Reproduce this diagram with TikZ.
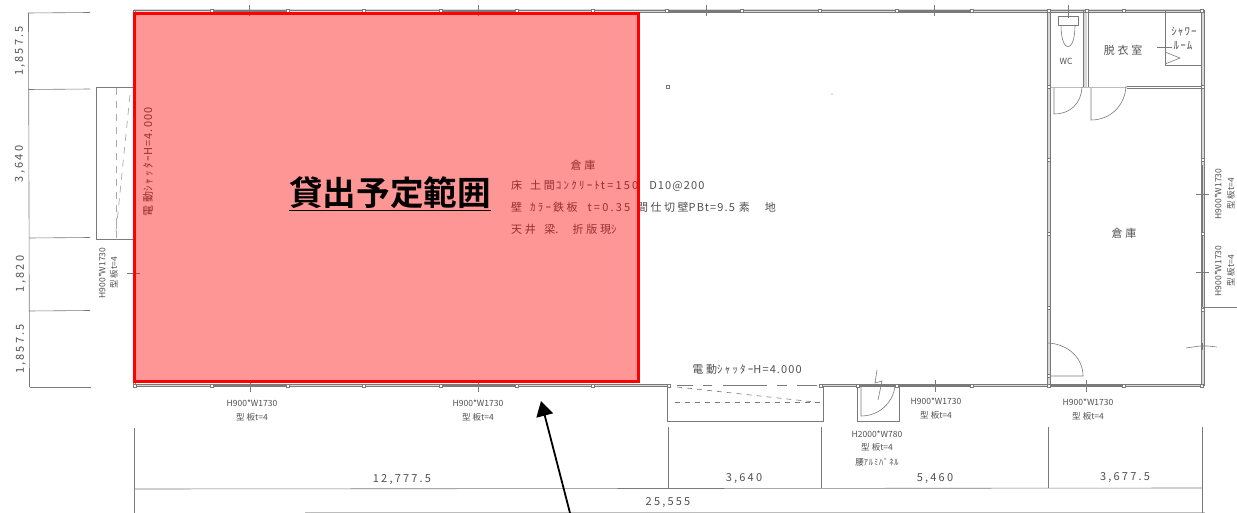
\documentclass[tikz,border=0pt]{standalone}
\usepackage{fontspec}
\setmainfont{Liberation Mono}
\newfontfamily\jp[LetterSpace=10]{Noto Sans CJK JP}
\newfontfamily\jpz{Noto Sans CJK JP}
\newfontfamily\jpw[LetterSpace=25]{Noto Sans CJK JP}
\newfontfamily\jpd[LetterSpace=20]{Noto Sans CJK JP}
\newfontfamily\jpb{Noto Sans CJK JP Bold}
\usetikzlibrary{arrows.meta}
\definecolor{ink}{HTML}{505050}
\definecolor{wallc}{HTML}{7a7a7a}
\definecolor{wallbg}{HTML}{d8d8d8}
\newcommand{\kj}[1]{{\jpw #1}}
\newcommand{\dg}[1]{{\jpd #1}}
\newcommand{\nr}[1]{{\jp #1}}
\newcommand{\hs}[1]{\hspace{#1pt}}
\tikzset{
 x=1pt,y=-1pt,
 wall/.style={draw=wallc,line width=.7pt},
 wallfill/.style={draw=wallbg,line width=3pt},
 thin line/.style={draw=wallc,line width=.6pt},
 faint line/.style={draw=wallbg!70!wallc,line width=.6pt},
 dash line/.style={draw=wallc,line width=.6pt,dash pattern=on 5pt off 5pt},
 pale dash/.style={draw=wallbg!50!wallc,line width=.7pt,dash pattern=on 7pt off 6pt},
 lbl/.style={inner sep=0pt,text=ink,font=\jpz\fontsize{8.5}{10}\selectfont},
 big/.style={inner sep=0pt,text=ink,font=\jp\fontsize{11}{12}\selectfont},
 dim/.style={inner sep=0pt,text=ink,font=\jpd\fontsize{11}{12}\selectfont},
 vdim/.style={dim,rotate=90},
 vlbl/.style={lbl,rotate=90},
}
\newcommand{\peg}[1]{\draw[draw=wallc,fill=white,line width=.5pt] (#1) ++(-1.7,-1.7) rectangle ++(3.4,3.4);}
\begin{document}
\begin{tikzpicture}
\useasboundingbox (0,0) rectangle (1237,513);
\fill[white] (0,0) rectangle (1237,513);
% wall bodies
\draw[wallfill] (134,11) -- (1203,11);
\draw[wallfill] (134,385.5) -- (668,385.5) (821,385.5) -- (1203,385.5);
\draw[wallfill] (1202.7,10) -- (1202.7,386);
\draw[wallfill] (1048.5,10) -- (1048.5,386);
\draw[wallfill] (1085.5,10) -- (1085.5,87);
% outer walls
\draw[wall] (134,10) -- (1204,10);
\draw[wall] (134,12) -- (1204,12);
\draw[wall] (134,384.5) -- (668,384.5) (821,384.5) -- (1204,384.5);
\draw[wall] (134,386.5) -- (668,386.5) (821,386.5) -- (1204,386.5);
\draw[wall] (133,10) -- (133,386);
\draw[wall] (135,10) -- (135,386);
\draw[wall] (1201.5,10) -- (1201.5,386);
\draw[wall] (1204,10) -- (1204,386);
\draw[draw=wallc,line width=1.4pt] (1202.7,165) -- (1202.7,307);
% interior walls
\draw[wall] (1047,10) -- (1047,386) (1050,10) -- (1050,386);
\draw[wall] (1083.5,10) -- (1083.5,87) (1088,10) -- (1088,87);
\draw[faint line] (1048,87) -- (1127,87);
\draw[wall] (1127,86) -- (1204,86) (1127,88) -- (1204,88);
\draw[draw=wallc,line width=.9pt] (1165,11) -- (1165,65) -- (1202,65);
\draw[thin line] (1165,52) -- (1180,58) -- (1165,64);
\draw[thin line] (1157,47) -- (1172,47);
% toilet
\draw[thin line] (1058,16) rectangle (1078,25);
\draw[thin line] (1061,25) .. controls (1061,54) and (1075,54) .. (1075,25);
\draw[thin line] (1068,5) -- (1068,18);
% doors
\draw[thin line] (1054,88) -- (1054,114) .. controls (1070,114) and (1081,104) .. (1082,87);
\draw[thin line] (1091,88) -- (1091,120) .. controls (1110,120) and (1125,106) .. (1126,86);
\draw[thin line] (1048,343) .. controls (1068,344) and (1083,358) .. (1083,376) -- (1048,376);
% left shutter
\draw[thin line] (133,87.5) -- (96,87.5) -- (96,239) -- (133,239);
\draw[pale dash] (116,88) -- (116,238);
\draw[pale dash] (130,95) -- (116,232);
\draw[thin line] (127,273) -- (140,273);
% bottom shutter
\draw[thin line] (667,386) -- (667,421) -- (823,421) -- (823,386);
\draw[thin line] (677,385.5) -- (693,385.5) (703,385.5) -- (712,385.5) (723,385.5) -- (767,385.5) (777,385.5) -- (787,385.5) (797,385.5) -- (817,385.5);
\draw[dash line] (675,402) -- (822,402);
\draw[dash line] (677,387) -- (815,402);
% door box
\draw[thin line] (857,386) -- (857,421) -- (899,421) -- (899,386);
\draw[draw=wallc,line width=.9pt] (860,385) -- (897,385);
\draw[thin line] (861,386) -- (861,416) .. controls (879,416) and (893,403) .. (895,386);
\draw[thin line] (877,370) -- (875,383) -- (882,381) -- (878,400);
% windows (thick parts)
\foreach \a/\b in {212/288,441/517,898/972,1049/1124}{
  \draw[draw=wallc,line width=1.3pt] (\a,385.5) -- (\b,385.5);}
\foreach \a/\b in {212/288,441/517,667/742,897/972}{
  \draw[draw=wallc,line width=1.3pt] (\a,11) -- (\b,11);}
% ticks
\foreach \x in {250,478,935,1086}{\draw[thin line] (\x,380) -- (\x,392);}
\foreach \x in {249,478,706,934}{\draw[thin line] (\x,5) -- (\x,16);}
\draw[thin line] (1196,194) -- (1209,194);
\draw[thin line] (1196,272) -- (1209,272);
\draw[thin line] (1186,348) -- (1200,346) (1200,346) -- (1208,346) (1208,346) -- (1217,347);
\draw[thin line] (1202,343) -- (1202,350);
\draw[thin line] (1203,307) -- (1237,307);
\foreach \x in {135,212,288,364,441,517,593,669,821,858,897,972,1049,1124,1202}{\peg{\x,385.5}}
\foreach \x in {212,288,364,441,517,593,667,742,820,897,972,1049,1087,1124,1202}{\peg{\x,11}}
\foreach \y in {87,160,234,308,376}{\peg{1048.5,\y}}
\foreach \y in {87,160,234,310}{\peg{1202.5,\y}}
\peg{668,87}
\fill[wallc] (832,94) circle (.6);
% dimension lines left
\draw[thin line] (28.5,13) -- (29.5,387);
\draw[thin line] (28,13) -- (90,12.5);
\draw[thin line] (28.5,89.5) -- (90,89);
\draw[thin line] (29,238) -- (90,237.5);
\draw[thin line] (29,311) -- (90,310.5);
\draw[thin line] (29.5,387) -- (91,387);
% dimension lines bottom
\draw[thin line] (134,428) -- (134,513);
\draw[thin line] (134,489) -- (1202,488);
\draw[faint line] (305,512) -- (1205,512);
\draw[thin line] (668,427) -- (668,488);
\draw[thin line] (821,427) -- (821,488);
\draw[thin line] (1048,427) -- (1048,488);
\draw[thin line] (1202,427) -- (1202,513);
% texts
\node[vdim] (d1) at (20,51) {1,857.5};
\node[vdim] (d2) at (20,164) {3,640};
\node[vdim] (d3) at (21,274) {1,820};
\node[vdim] (d4) at (21,349) {1,857.5};
\node[dim] (d5) at (402,480) {12,777.5};
\node[dim] (d6) at (744,479) {3,640};
\node[dim] (d7) at (935,479) {5,460};
\node[dim] (d8) at (1125,478) {3,677.5};
\node[dim] (d9) at (668,503) {25,555};
\node[vlbl] (w1a) at (102,273) {H900*W1730};
\node[vlbl] (w1b) at (114,273) {\kj{型板}t=4};
\node[lbl] (w2a) at (252,403) {H900*W1730};
\node[lbl] (w2b) at (252,417) {\kj{型板}t=4};
\node[lbl] (w3a) at (478,403) {H900*W1730};
\node[lbl] (w3b) at (478,417) {\kj{型板}t=4};
\node[lbl] (w4a) at (936,401) {H900*W1730};
\node[lbl] (w4b) at (936,415) {\kj{型板}t=4};
\node[lbl] (w5a) at (1088,402) {H900*W1730};
\node[lbl] (w5b) at (1088,416) {\kj{型板}t=4};
\node[vlbl] (w6a) at (1218,194) {H900*W1730};
\node[vlbl] (w6b) at (1231,194) {\kj{型板}t=4};
\node[vlbl] (w7a) at (1218,271) {H900*W1730};
\node[vlbl] (w7b) at (1231,271) {\kj{型板}t=4};
\node[lbl] (d1a) at (877,434) {H2000*W780};
\node[lbl] (d1b) at (877,447) {\kj{型板}t=4};
\node[lbl] (d1c) at (877,462) {\kj{腰}\nr{ｱﾙﾐﾊﾟﾈﾙ}};
\node[big] (s1) at (747,369) {\kj{電動}\dg{ｼｬｯﾀｰ}\nr{H=4.000}};
\node[big,rotate=90] (s2) at (148,162) {\kj{電動}\dg{ｼｬｯﾀｰ}\nr{H=4.000}};
\node[big] (r1) at (583,165) {\kj{倉庫}};
\node[big] (r2) at (1124,233) {\kj{倉庫}};
\node[big] (r3) at (1123,50) {\kj{脱衣室}};
\node[lbl] (r4) at (1066,61) {WC};
\node[big] (r5) at (1184,32) {ｼｬﾜｰ};
\node[big] (r6) at (1183,46) {ﾙｰﾑ};
\node[big,anchor=west] (n1) at (511,186) {\kj{床}\hs{8}\kj{土間}\hs{1}\dg{ｺﾝｸﾘｰﾄ}\hs{1}\dg{t=150}\hs{11}\nr{D10@200}};
\node[big,anchor=west] (n2) at (511,207) {\kj{壁}\hs{8}\dg{ｶﾗｰ}\hs{2}\kj{鉄}\hs{2.5}\kj{板}\hs{10}\dg{t=0.35}\hs{7}\kj{間}\hs{2.5}\kj{仕}\hs{2.5}\kj{切}\hs{2.5}\kj{壁}\nr{PBt=9.5}\hs{4}\kj{素}\hs{15}\kj{地}};
\node[big,anchor=west] (n3) at (511,229) {\kj{天井}\hs{8.5}\kj{梁}\nr{.}\hs{14}\kj{折版現}\nr{ｼ}};
% highlighted area
\path[fill=red,fill opacity=.41] (134,14) rectangle (638,381);
\draw[draw=red,line width=3pt] (134,14) rectangle (638,381);
\node[inner sep=0pt,text=black,font=\jpb\fontsize{33.6}{36}\selectfont] (title) at (390,194) {\underline{貸出予定範囲}};
% arrow
\coordinate (arrowfrom) at (570,513);
\coordinate (arrowto) at (541,401);
\draw[-{Triangle[length=15pt,width=17pt]},line width=1.8pt,black] (arrowfrom) -- (arrowto);
\end{tikzpicture}
\end{document}
